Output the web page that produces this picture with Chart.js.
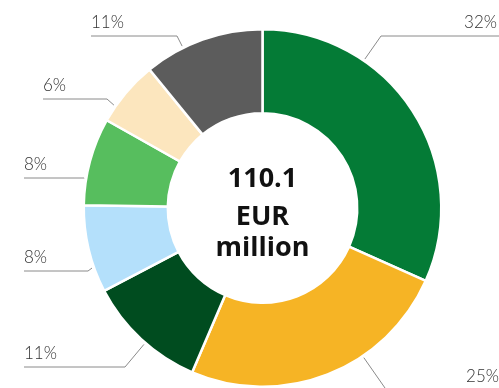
<!DOCTYPE html>
<html lang="en">
<head>
    <meta charset="UTF-8">
    <title>Breakdown - 110.1 EUR million</title>
    <script src="https://cdn.jsdelivr.net/npm/chart.js"></script>
    <style>
        html, body { margin: 0; padding: 0; background: #ffffff; }
        .chart-container { width: 499px; height: 388px; position: relative; }
    </style>
</head>
<body>
    <div class="chart-container">
        <canvas id="donut"></canvas>
    </div>

    <script>
        // Slice values (percent), clockwise from 12 o'clock
        const shares = [32, 25, 11, 8, 8, 6, 11];
        const shareLabels = ['32%', '25%', '11%', '8%', '8%', '6%', '11%'];
        const sliceColors = ['#047b36', '#f6b425', '#004c1f', '#b4e0fb', '#57be5e', '#fce6be', '#5c5c5c'];
        const centerLines = ['110.1', 'EUR', 'million'];

        // Callout geometry per slice: where the leader leaves the ring (deg from top),
        // the elbow point, the far end of the horizontal run and label side.
        const callouts = [
            { angle: 34.5,  elbow: [381, 36],  endX: 499, side: 'right', textX: 497 },
            { angle: 145.9, elbow: [392, 398], endX: 499, side: 'right', textX: 499 },
            { angle: 221,   elbow: [125, 367], endX: 24,  side: 'left',  textX: 24 },
            { angle: 250.6, elbow: [88, 271],  endX: 24,  side: 'left',  textX: 24 },
            { angle: 279.5, elbow: [84, 178],  endX: 24,  side: 'left',  textX: 24 },
            { angle: 304.7, elbow: [107, 99],  endX: 43,  side: 'left',  textX: 43 },
            { angle: 333.6, elbow: [177, 36],  endX: 91,  side: 'left',  textX: 91 }
        ];

        const calloutPlugin = {
            id: 'callouts',
            afterDatasetsDraw(chart) {
                const ctx = chart.ctx;
                const arcs = chart.getDatasetMeta(0).data;
                ctx.save();
                arcs.forEach((arc, i) => {
                    const c = callouts[i];
                    const r = arc.outerRadius + 2;
                    const a = c.angle * Math.PI / 180;
                    const sx = arc.x + r * Math.sin(a);
                    const sy = arc.y - r * Math.cos(a);
                    ctx.strokeStyle = '#8a8a8a';
                    ctx.lineWidth = 1;
                    ctx.beginPath();
                    ctx.moveTo(sx, sy);
                    ctx.lineTo(c.elbow[0], c.elbow[1]);
                    ctx.lineTo(c.endX, c.elbow[1]);
                    ctx.stroke();

                    ctx.fillStyle = '#333333';
                    ctx.font = '300 17px Lato, "Noto Sans", sans-serif';
                    ctx.textBaseline = 'alphabetic';
                    ctx.textAlign = c.side === 'right' ? 'right' : 'left';
                    const ty = c.elbow[1] > 388 ? 382 : c.elbow[1] - 8;
                    ctx.fillText(shareLabels[i], c.textX, ty);
                });

                // Total in the hole
                const cx = arcs[0].x, cy = arcs[0].y;
                ctx.fillStyle = '#111111';
                ctx.textAlign = 'center';
                ctx.textBaseline = 'alphabetic';
                ctx.font = '700 27px "Open Sans", Lato, sans-serif';
                const baselines = [-21, 17, 48];
                centerLines.forEach((t, k) => ctx.fillText(t, cx, cy + baselines[k]));
                ctx.restore();
            }
        };

        new Chart(document.getElementById('donut'), {
            type: 'doughnut',
            data: {
                labels: shareLabels,
                datasets: [{
                    data: shares,
                    backgroundColor: sliceColors,
                    borderColor: '#ffffff',
                    borderWidth: 2.5
                }]
            },
            options: {
                responsive: true,
                maintainAspectRatio: false,
                animation: false,
                cutout: '53%',
                layout: { padding: { left: 82, right: 56, top: 28, bottom: 0 } },
                plugins: {
                    legend: { display: false },
                    tooltip: { enabled: false }
                }
            },
            plugins: [calloutPlugin]
        });
    </script>
</body>
</html>
